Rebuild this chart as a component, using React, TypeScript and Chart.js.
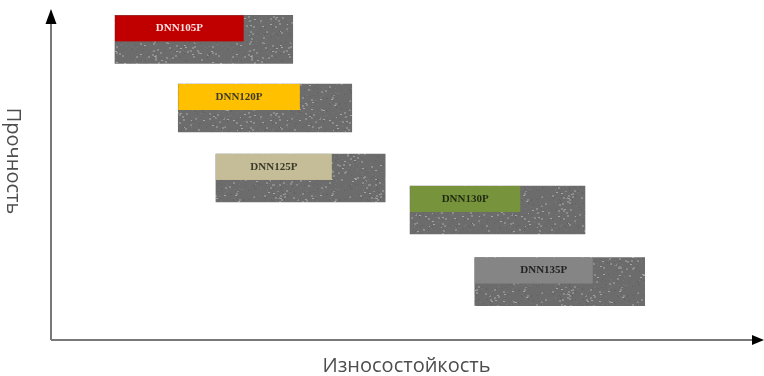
import { useEffect, useRef } from 'react';
import { Chart, registerables } from 'chart.js';

Chart.register(...registerables);

const grades = ['DNN105P', 'DNN120P', 'DNN125P', 'DNN130P', 'DNN135P'];
const wearMin = [9.0, 17.9, 23.2, 50.5, 59.6];
const wearMax = [34.0, 42.3, 47.0, 75.1, 83.5];
const labelMax = [27.1, 35.0, 39.5, 66.0, 76.2];
const strength = [91.1, 70.3, 49.1, 39.4, 17.7];
const labelColors = ['#c00000', '#ffc000', '#c4bd97', '#77933c', '#858585'];
const labelTextColors = ['#ffe0e0', '#3a3a2a', '#3a3a2a', '#1f2a10', '#222222'];
const xTitle = 'Износостойкость';
const yTitle = 'Прочность';

function makeTexture(): CanvasPattern | string {
  const off = document.createElement('canvas');
  off.width = 96;
  off.height = 96;
  const c = off.getContext('2d');
  if (!c) return '#6e6e6e';
  c.fillStyle = '#6c6c6c';
  c.fillRect(0, 0, 96, 96);
  for (let i = 0; i < 700; i++) {
    const h = Math.abs(Math.sin(i * 12.9898 + 78.233) * 43758.5453) % 1;
    const h2 = Math.abs(Math.sin(i * 39.3468 + 11.135) * 24634.6345) % 1;
    const h3 = Math.abs(Math.sin(i * 73.156 + 52.235) * 91823.1234) % 1;
    const x = Math.floor(h * 96);
    const y = Math.floor(h2 * 96);
    if (h3 < 0.2) c.fillStyle = '#8c8c8c';
    else if (h3 < 0.28) c.fillStyle = '#a4a4a4';
    else if (h3 < 0.65) c.fillStyle = '#606060';
    else c.fillStyle = '#787878';
    c.fillRect(x, y, h3 < 0.28 ? 2 : 1, h3 < 0.2 ? 2 : 1);
  }
  const p = c.createPattern(off, 'repeat');
  return p || '#6e6e6e';
}

const labelPlugin = {
  id: 'labelBoxes',
  afterDatasetsDraw(chart: any) {
    const { ctx, scales } = chart;
    const meta = chart.getDatasetMeta(0);
    const xs = scales.x;
    meta.data.forEach((el: any, i: number) => {
      const h = el.height;
      const top = el.y - h / 2;
      const x0 = xs.getPixelForValue(wearMin[i]);
      const x1 = xs.getPixelForValue(labelMax[i]);
      const boxH = 26;
      ctx.save();
      ctx.fillStyle = labelColors[i];
      ctx.fillRect(x0, top, x1 - x0, boxH);
      ctx.fillStyle = labelTextColors[i];
      ctx.font = 'bold 11px "Liberation Serif", serif';
      ctx.textAlign = 'center';
      ctx.textBaseline = 'middle';
      ctx.fillText(grades[i], (x0 + x1) / 2 + (i === 4 ? 10 : 0), top + boxH / 2);
      ctx.restore();
    });
  },
};

const axesPlugin = {
  id: 'arrowAxes',
  afterDraw(chart: any) {
    const { ctx, chartArea, width } = chart;
    const { left, right, top, bottom } = chartArea;
    ctx.save();
    ctx.strokeStyle = '#787878';
    ctx.lineWidth = 2;
    ctx.beginPath();
    ctx.moveTo(left, bottom);
    ctx.lineTo(left, top + 8);
    ctx.moveTo(left, bottom);
    ctx.lineTo(width - 8, bottom);
    ctx.stroke();
    ctx.fillStyle = '#000';
    ctx.beginPath();
    ctx.moveTo(left, top - 1);
    ctx.lineTo(left - 5.5, top + 14);
    ctx.lineTo(left + 5.5, top + 14);
    ctx.closePath();
    ctx.fill();
    ctx.beginPath();
    ctx.moveTo(width, bottom);
    ctx.lineTo(width - 12, bottom - 5);
    ctx.lineTo(width - 12, bottom + 5);
    ctx.closePath();
    ctx.fill();

    ctx.fillStyle = '#4d4d4d';
    ctx.font = 'normal 400 20px "Open Sans", sans-serif';
    ctx.textAlign = 'center';
    ctx.textBaseline = 'middle';
    ctx.fillText(xTitle, (left + right) / 2, 366);
    ctx.translate(13, 161);
    ctx.rotate(Math.PI / 2);
    ctx.fillText(yTitle, 0, 0);
    ctx.restore();
  },
};

export default function App() {
  const ref = useRef<HTMLCanvasElement | null>(null);
  useEffect(() => {
    if (!ref.current) return;
    const texture = makeTexture();
    const chart = new Chart(ref.current, {
      type: 'bar',
      data: {
        datasets: [
          {
            label: 'grades',
            data: grades.map((_, i) => ({ x: [wearMin[i], wearMax[i]], y: strength[i] })) as any,
            backgroundColor: texture as any,
            borderWidth: 0,
            barThickness: 48,
          },
        ],
      },
      options: {
        indexAxis: 'y',
        animation: false,
        responsive: true,
        maintainAspectRatio: false,
        layout: { padding: { left: 51, right: 2, top: 10, bottom: 36 } },
        plugins: { legend: { display: false }, tooltip: { enabled: false } },
        scales: {
          x: { type: 'linear', min: 0, max: 100, display: false },
          y: { type: 'linear', min: 0, max: 100, display: false, offset: false },
        },
      },
      plugins: [labelPlugin, axesPlugin],
    });
    return () => chart.destroy();
  }, []);
  return (
    <div style={{ position: 'fixed', left: 0, top: 0, width: 764, height: 376, background: '#fff' }}>
      <canvas ref={ref} />
    </div>
  );
}
